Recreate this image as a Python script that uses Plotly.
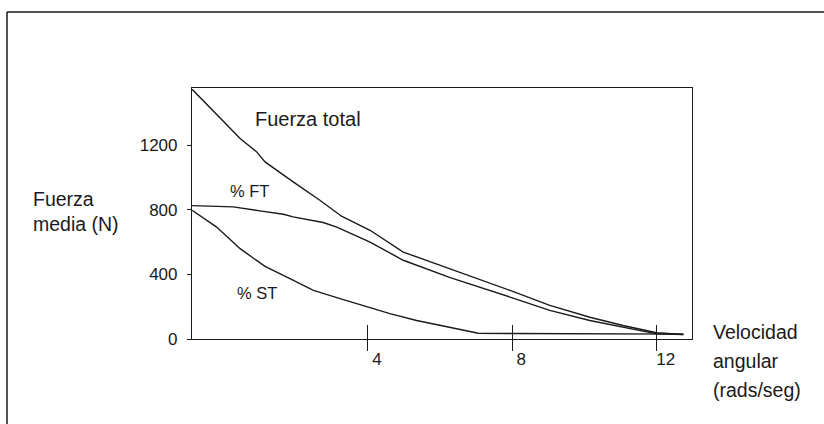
import plotly.graph_objects as go

# Velocity (rads/seg) and mean force (N)
total_x = [-0.87, -0.19, 0.46, 0.92, 1.15, 1.93, 2.67, 3.27, 4.06, 4.98, 6.28, 7.94, 9.04, 10.15, 11.07, 12.0, 12.74]
total_y = [1548, 1394, 1243, 1160, 1098, 974, 860, 761, 674, 539, 436, 301, 208, 135, 84, 39, 28]

ft_x = [-0.87, 0.27, 1.01, 1.66, 1.93, 2.76, 3.14, 4.06, 4.98, 6.28, 7.94, 9.04, 10.15, 11.07, 12.0, 12.74]
ft_y = [827, 819, 794, 773, 757, 722, 694, 601, 488, 380, 260, 177, 115, 73, 32, 28]

st_x = [-0.87, -0.19, 0.46, 1.15, 1.84, 2.49, 3.23, 4.06, 4.61, 5.35, 6.28, 7.06, 8.0, 10.0, 12.0, 12.74]
st_y = [798, 694, 560, 450, 374, 301, 250, 194, 157, 115, 73, 36, 34, 32, 31, 30]

x_ticks = [4, 8, 12]
y_ticks = [0, 400, 800, 1200]

x_title_lines = ["Velocidad", "angular", "(rads/seg)"]

FONT = "Liberation Sans"
INK = "#1a1a1a"

fig = go.Figure()
for xs, ys in [(total_x, total_y), (ft_x, ft_y), (st_x, st_y)]:
    fig.add_trace(go.Scatter(x=xs, y=ys, mode="lines",
                             line=dict(color=INK, width=1.4),
                             showlegend=False, hoverinfo="skip"))

fig.update_layout(
    width=824, height=424,
    margin=dict(l=192, r=132, t=88, b=85),
    paper_bgcolor="white", plot_bgcolor="white",
    font=dict(family=FONT, color=INK, size=17),
    showlegend=False,
)

fig.update_xaxes(
    range=[-0.873, 12.98], showgrid=False, zeroline=False,
    showline=True, mirror=True, linecolor=INK, linewidth=1.2,
    tickmode="array", tickvals=x_ticks, ticktext=[str(v) for v in x_ticks],
    ticks="outside", ticklen=11, tickcolor=INK, tickwidth=1.2,
    ticklabelshift=9, ticklabelstandoff=-7,
    minor=dict(tickmode="array", tickvals=x_ticks, ticks="inside",
               ticklen=14, tickcolor=INK, tickwidth=1.2),
    tickfont=dict(size=17, family=FONT, color=INK),
)
fig.update_yaxes(
    range=[0, 1556], showgrid=False, zeroline=False,
    showline=True, mirror=True, linecolor=INK, linewidth=1.2,
    tickmode="array", tickvals=y_ticks, ticktext=[str(v) for v in y_ticks],
    ticks="outside", ticklen=4, tickcolor=INK, tickwidth=1.2,
    ticklabelstandoff=6,
    tickfont=dict(size=17, family=FONT, color=INK),
)

# curve labels
fig.add_annotation(x=2.35, y=1363, text="Fuerza total", showarrow=False,
                   font=dict(size=20, family=FONT, color=INK))
fig.add_annotation(x=0.73, y=916, text="% FT", showarrow=False,
                   font=dict(size=16.5, family=FONT, color=INK))
fig.add_annotation(x=0.94, y=283, text="% ST", showarrow=False,
                   font=dict(size=16.5, family=FONT, color=INK))

# axis titles
fig.add_annotation(xref="paper", yref="paper", x=-0.3226, y=0.506,
                   xanchor="left", yanchor="middle", align="left",
                   text="Fuerza<br>media (N)", showarrow=False,
                   font=dict(size=19.5, family=FONT, color=INK))
for i, line in enumerate(x_title_lines):
    fig.add_annotation(xref="paper", yref="paper", x=1.038,
                       y=(339 - (332 + 29 * i)) / 251,
                       xanchor="left", yanchor="middle", align="left",
                       text=line, showarrow=False,
                       font=dict(size=19.5, family=FONT, color=INK))

# outer frame (top and left edges)
fig.add_shape(type="line", xref="paper", yref="paper",
              x0=-0.37, x1=1.27, y0=1.303, y1=1.303,
              line=dict(color=INK, width=1.5))
fig.add_shape(type="line", xref="paper", yref="paper",
              x0=-0.37, x1=-0.37, y0=1.303, y1=-0.34,
              line=dict(color=INK, width=1.5))

fig.write_html("out.html")
